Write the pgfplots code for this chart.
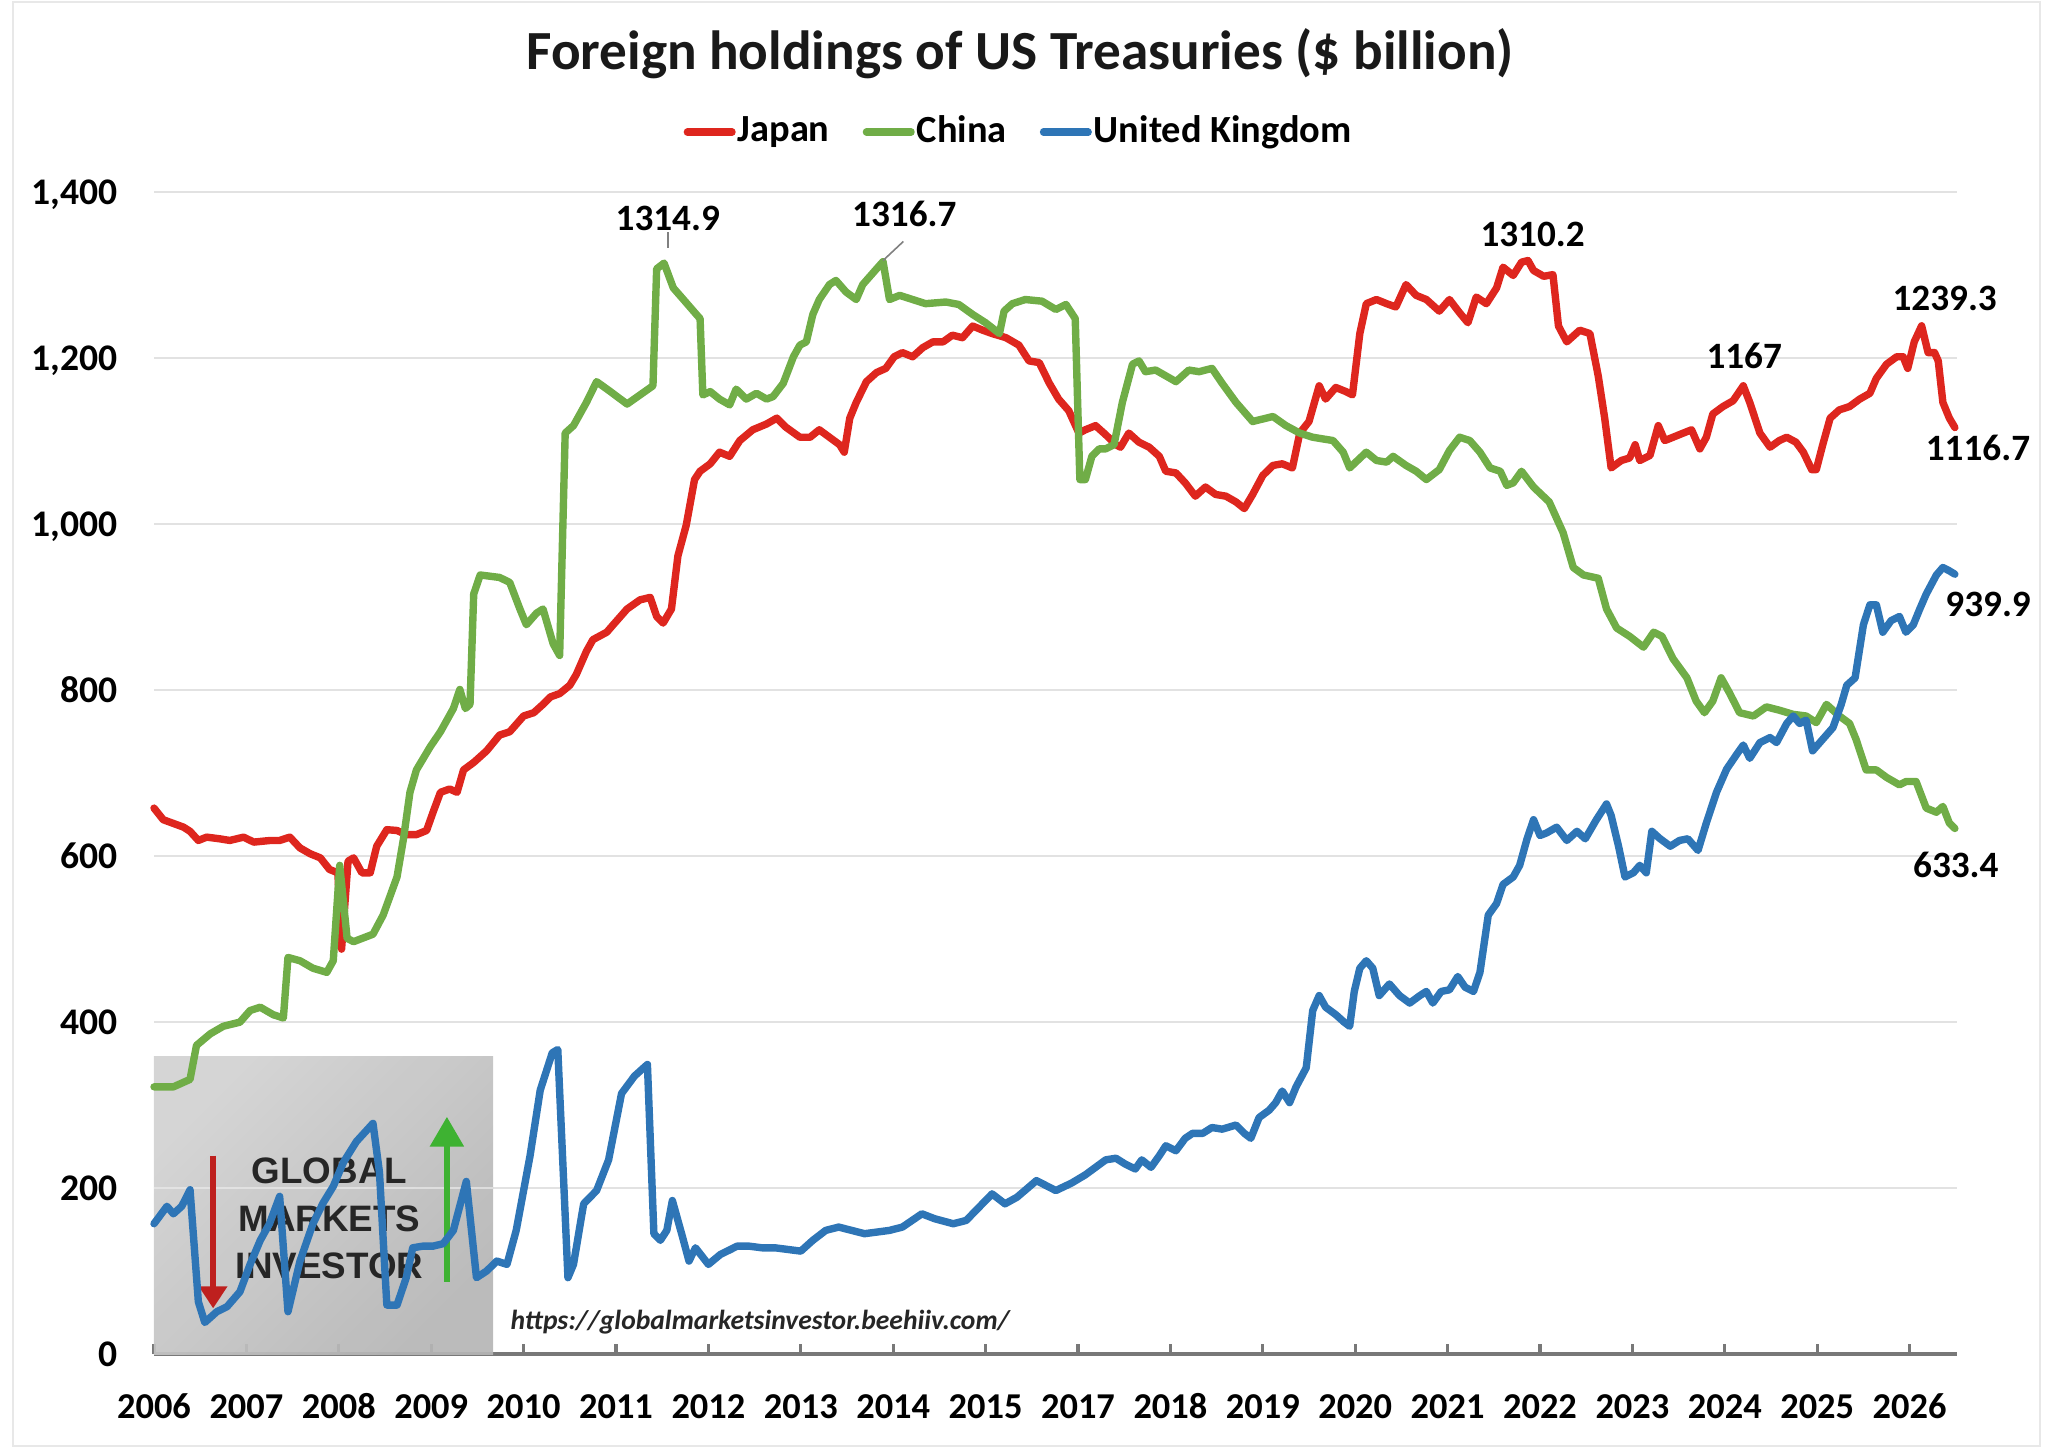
\documentclass[border=0pt]{standalone}
\usepackage{pgfplots}
\pgfplotsset{compat=1.18}
\usepackage{fontspec}
\setmainfont{Carlito}
\newfontfamily\logofont{Liberation Sans}
\usetikzlibrary{arrows.meta}
\definecolor{jpred}{RGB}{222,38,30}
\definecolor{cngreen}{RGB}{112,173,71}
\definecolor{ukblue}{RGB}{46,117,182}
\definecolor{gridc}{RGB}{226,226,226}
\definecolor{axc}{RGB}{120,120,120}
\definecolor{arrred}{RGB}{190,32,30}
\definecolor{arrgreen}{RGB}{62,178,50}
\begin{document}
\begin{tikzpicture}
\path[use as bounding box] (0,0) rectangle (511.5pt,362pt);
\draw[gray!18, line width=0.5pt] (3.25pt,0.5pt) rectangle (510pt,361.5pt);
\begin{axis}[
  at={(38.5pt,23.5pt)}, anchor=south west,
  width=450.75pt, height=290.375pt, scale only axis,
  xmin=0, xmax=19.513, ymin=0, ymax=1400,
  clip=false,
  axis x line*=bottom, axis y line*=left,
  y axis line style={draw=none},
  x axis line style={axc, line width=0.85pt},
  xtick={0,...,19},
  xticklabels={2006,2007,2008,2009,2010,2011,2012,2013,2014,2015,2017,2018,2019,2020,2021,2022,2023,2024,2025,2026},
  ytick={0,200,400,600,800,1000,1200,1400},
  yticklabels={0,200,400,600,800,{1,000},{1,200},{1,400}},
  xtick style={axc, line width=0.8pt},
  ytick style={draw=none},
  tick align=inside, major tick length=2.6pt,
  xticklabel style={font=\fontsize{9.1}{11}\selectfont\bfseries, anchor=base, yshift=-16pt, inner sep=0pt},
  yticklabel style={font=\fontsize{9.4}{11}\selectfont\bfseries, anchor=base east, xshift=-9pt, yshift=-3pt, inner sep=0pt},
  ymajorgrids, grid style={gridc, line width=0.5pt},
  legend columns=3,
  legend style={at={(0.4796,1.052)}, anchor=center, draw=none, fill=none,
    font=\fontsize{9.6}{11}\selectfont\bfseries,
    nodes={inner xsep=0.5pt, inner ysep=1pt},
    /tikz/every even column/.append style={column sep=7.8pt}},
  legend image code/.code={\draw[#1, line width=1.8pt, line cap=round] (0pt,0pt) -- (11.2pt,0pt);},
  every axis plot/.append style={line width=1.85pt, line join=round, line cap=round},
]
% logo box
\shade[left color=gray!36, middle color=gray!6, right color=gray!58, shading angle=45, opacity=0.92]
  (axis cs:0,0) rectangle (axis cs:3.67,358);
\draw[white!85!gray, line width=0.5pt, opacity=0.7] (axis cs:0,200) -- (axis cs:3.67,200);
\node[font=\logofont\fontsize{9.2}{11}\selectfont\bfseries, text=black!85] at (axis cs:1.90,220.6) {GLOBAL};
\node[font=\logofont\fontsize{9.2}{11}\selectfont\bfseries, text=black!85] at (axis cs:1.90,163) {MARKETS};
\node[font=\logofont\fontsize{9.2}{11}\selectfont\bfseries, text=black!85] at (axis cs:1.90,106) {INVESTOR};
\draw[arrred, line width=1.6pt, -{Triangle[width=6.8pt,length=5.5pt]}] (axis cs:0.64,239) -- (axis cs:0.64,55);
\draw[arrgreen, line width=1.6pt, -{Triangle[width=8.2pt,length=7.5pt]}] (axis cs:3.17,87) -- (axis cs:3.17,286);
\node[font=\fontsize{6.9}{8}\selectfont\bfseries\itshape, text=black!85] at (axis cs:6.56,39) {https://globalmarketsinvestor.beehiiv.com/};

\addplot[jpred] table {
x y
0.00 658
0.10 644
0.32 635
0.39 630
0.48 619
0.57 623
0.71 621
0.82 619
0.97 623
1.08 617
1.26 619
1.36 619
1.47 623
1.58 610
1.69 603
1.80 598
1.90 584
1.99 580
2.03 488
2.10 594
2.16 598
2.25 580
2.34 580
2.41 612
2.52 632
2.63 631
2.73 626
2.84 626
2.95 631
3.02 653
3.10 677
3.20 681
3.28 677
3.35 704
3.46 713
3.60 727
3.74 746
3.85 750
4.00 769
4.11 773
4.21 783
4.29 792
4.39 796
4.50 806
4.57 819
4.68 847
4.75 861
4.90 870
4.97 879
5.12 898
5.26 909
5.37 912
5.44 889
5.51 881
5.60 898
5.67 962
5.76 999
5.85 1054
5.91 1064
6.02 1073
6.12 1087
6.23 1082
6.34 1101
6.48 1114
6.63 1121
6.74 1128
6.84 1117
6.99 1105
7.10 1105
7.20 1114
7.31 1105
7.42 1096
7.47 1087
7.53 1128
7.60 1147
7.71 1172
7.82 1183
7.92 1188
8.01 1202
8.10 1207
8.21 1202
8.32 1213
8.43 1220
8.54 1220
8.64 1228
8.75 1225
8.86 1239
8.97 1234
9.07 1230
9.22 1225
9.36 1216
9.47 1197
9.58 1195
9.69 1170
9.79 1151
9.90 1137
10.01 1110
10.08 1114
10.19 1119
10.30 1108
10.41 1096
10.46 1093
10.55 1110
10.66 1099
10.77 1093
10.88 1082
10.95 1064
11.06 1062
11.16 1050
11.27 1034
11.38 1045
11.49 1036
11.60 1034
11.71 1027
11.80 1019
11.89 1036
12.00 1059
12.11 1071
12.21 1073
12.32 1068
12.40 1110
12.50 1124
12.61 1167
12.68 1151
12.79 1165
12.90 1160
12.97 1156
13.05 1230
13.12 1266
13.23 1271
13.34 1266
13.44 1262
13.55 1289
13.66 1276
13.77 1271
13.91 1257
14.02 1271
14.13 1255
14.22 1243
14.31 1274
14.42 1266
14.53 1285
14.60 1310
14.71 1300
14.80 1316
14.87 1318
14.93 1306
15.04 1299
15.14 1301
15.20 1239
15.29 1220
15.43 1234
15.54 1230
15.63 1179
15.70 1128
15.77 1068
15.88 1077
15.97 1080
16.03 1096
16.08 1077
16.19 1083
16.28 1119
16.35 1101
16.44 1105
16.55 1110
16.64 1114
16.73 1091
16.80 1105
16.87 1133
16.98 1142
17.09 1149
17.20 1167
17.27 1147
17.38 1110
17.49 1093
17.59 1101
17.67 1105
17.77 1099
17.85 1087
17.94 1066
17.99 1066
18.06 1096
18.14 1128
18.24 1138
18.35 1142
18.46 1151
18.57 1158
18.64 1176
18.75 1193
18.86 1202
18.93 1202
18.98 1188
19.05 1220
19.13 1239.3
19.20 1207
19.27 1207
19.31 1197
19.36 1147
19.43 1128
19.49 1116.7
};
\addlegendentry{Japan}

\addplot[cngreen] table {
x y
0.00 322
0.21 322
0.39 331
0.46 372
0.61 386
0.75 395
0.93 400
1.04 414
1.15 418
1.29 409
1.40 405
1.45 478
1.58 474
1.72 465
1.87 460
1.94 474
2.01 589
2.09 501
2.16 497
2.37 506
2.48 529
2.63 575
2.70 621
2.77 677
2.84 704
2.99 732
3.10 750
3.24 778
3.31 801
3.37 778
3.42 783
3.46 916
3.53 939
3.74 936
3.85 930
3.96 898
4.03 879
4.14 893
4.21 898
4.32 856
4.39 842
4.45 1110
4.54 1119
4.68 1147
4.79 1172
4.94 1160
5.12 1145
5.26 1156
5.40 1167
5.44 1308
5.52 1314.9
5.62 1285
5.73 1271
5.87 1253
5.91 1248
5.94 1156
6.02 1160
6.12 1151
6.23 1144
6.30 1163
6.41 1151
6.52 1158
6.63 1151
6.70 1154
6.81 1170
6.92 1202
6.99 1216
7.06 1220
7.13 1253
7.20 1271
7.31 1289
7.38 1294
7.49 1280
7.60 1271
7.67 1289
7.82 1308
7.89 1316.7
7.96 1271
8.07 1276
8.21 1271
8.35 1266
8.57 1268
8.71 1265
8.86 1253
9.00 1243
9.15 1230
9.20 1257
9.29 1266
9.43 1271
9.61 1269
9.76 1259
9.87 1265
9.97 1248
10.02 1054
10.08 1054
10.15 1082
10.23 1091
10.30 1091
10.39 1096
10.48 1147
10.59 1193
10.66 1197
10.73 1184
10.84 1186
10.95 1179
11.06 1172
11.20 1186
11.31 1184
11.45 1188
11.56 1170
11.71 1147
11.89 1124
12.11 1130
12.25 1119
12.40 1110
12.54 1105
12.76 1101
12.87 1087
12.94 1068
13.12 1087
13.23 1077
13.34 1075
13.41 1082
13.55 1071
13.66 1064
13.77 1054
13.91 1066
14.02 1089
14.13 1105
14.24 1101
14.35 1087
14.46 1068
14.57 1064
14.64 1047
14.71 1050
14.80 1064
14.93 1045
15.10 1027
15.25 990
15.36 948
15.47 939
15.63 935
15.72 898
15.83 875
15.97 865
16.12 852
16.23 870
16.32 865
16.44 838
16.59 815
16.69 787
16.78 773
16.87 787
16.96 815
17.05 797
17.16 773
17.31 769
17.45 780
17.59 776
17.74 771
17.88 769
17.99 761
18.10 783
18.24 769
18.35 760
18.42 741
18.53 704
18.64 704
18.75 695
18.89 686
18.96 690
19.07 690
19.18 658
19.29 653
19.36 660
19.43 640
19.49 633.4
};
\addlegendentry{China}

\addplot[ukblue] table {
x y
0.00 157
0.14 178
0.21 169
0.30 178
0.39 198
0.48 63
0.55 38
0.68 51
0.79 57
0.93 75
1.04 108
1.15 137
1.25 157
1.36 190
1.45 51
1.58 112
1.72 157
1.83 182
1.94 202
2.05 231
2.19 256
2.37 278
2.44 219
2.52 59
2.63 59
2.73 92
2.80 128
2.91 130
3.02 130
3.13 133
3.24 149
3.38 208
3.49 92
3.60 100
3.71 112
3.82 108
3.92 149
4.07 239
4.18 318
4.31 363
4.37 367
4.48 92
4.54 108
4.65 181
4.79 197
4.92 234
5.06 314
5.20 335
5.34 349
5.41 145
5.48 137
5.55 149
5.61 185
5.72 141
5.79 112
5.86 128
6.00 108
6.13 120
6.24 126
6.31 130
6.44 130
6.58 128
6.72 128
6.86 126
7.00 124
7.13 137
7.27 149
7.41 153
7.55 149
7.69 145
7.96 149
8.10 153
8.31 169
8.45 163
8.65 157
8.79 161
8.93 177
9.07 193
9.21 181
9.34 189
9.55 209
9.76 197
9.93 206
10.08 216
10.19 225
10.30 234
10.41 236
10.51 229
10.62 223
10.69 234
10.79 225
10.88 239
10.95 251
11.06 245
11.16 260
11.24 266
11.35 266
11.45 273
11.56 271
11.71 276
11.80 266
11.87 260
11.96 285
12.07 294
12.14 303
12.21 317
12.29 303
12.36 322
12.47 345
12.54 414
12.61 432
12.68 418
12.79 409
12.88 400
12.94 395
12.99 437
13.05 465
13.12 474
13.19 465
13.26 432
13.37 446
13.48 432
13.59 423
13.70 432
13.77 437
13.84 423
13.93 437
14.02 439
14.11 455
14.19 442
14.28 437
14.35 460
14.44 529
14.53 543
14.60 566
14.71 575
14.78 589
14.86 621
14.93 644
15.00 625
15.07 628
15.18 635
15.29 619
15.40 630
15.49 621
15.61 644
15.72 663
15.77 649
15.85 612
15.92 575
16.01 580
16.08 589
16.15 580
16.21 630
16.30 621
16.41 612
16.51 619
16.60 621
16.71 607
16.80 640
16.91 677
17.02 705
17.13 723
17.20 734
17.27 718
17.38 737
17.49 743
17.56 737
17.67 760
17.74 769
17.81 760
17.88 764
17.95 727
18.06 741
18.17 755
18.26 783
18.32 806
18.41 815
18.50 879
18.57 903
18.64 903
18.71 870
18.80 884
18.89 889
18.96 870
19.04 879
19.11 898
19.18 916
19.29 939
19.36 948
19.43 944
19.49 939.9
};
\addlegendentry{United Kingdom}

% data labels
\draw[gray, line width=0.4pt] (axis cs:5.56,1352) -- (axis cs:5.56,1333);
\draw[gray, line width=0.4pt] (axis cs:8.11,1341) -- (axis cs:7.89,1318);
\begin{scope}[every node/.style={font=\fontsize{9.3}{11}\selectfont\bfseries, inner sep=0pt}]
\node at (axis cs:5.56,1369) {1314.9};
\node at (axis cs:8.12,1374) {1316.7};
\node at (axis cs:14.92,1350) {1310.2};
\node at (axis cs:19.38,1272) {1239.3};
\node at (axis cs:17.21,1203) {1167};
\node at (axis cs:19.74,1092) {1116.7};
\node at (axis cs:19.85,903) {939.9};
\node at (axis cs:19.50,590) {633.4};
\end{scope}
\end{axis}
\node[anchor=base, font=\fontsize{13.8}{16}\selectfont\bfseries, text=black!90] at (255pt,344.6pt) {Foreign holdings of US Treasuries (\$ billion)};
\end{tikzpicture}
\end{document}
